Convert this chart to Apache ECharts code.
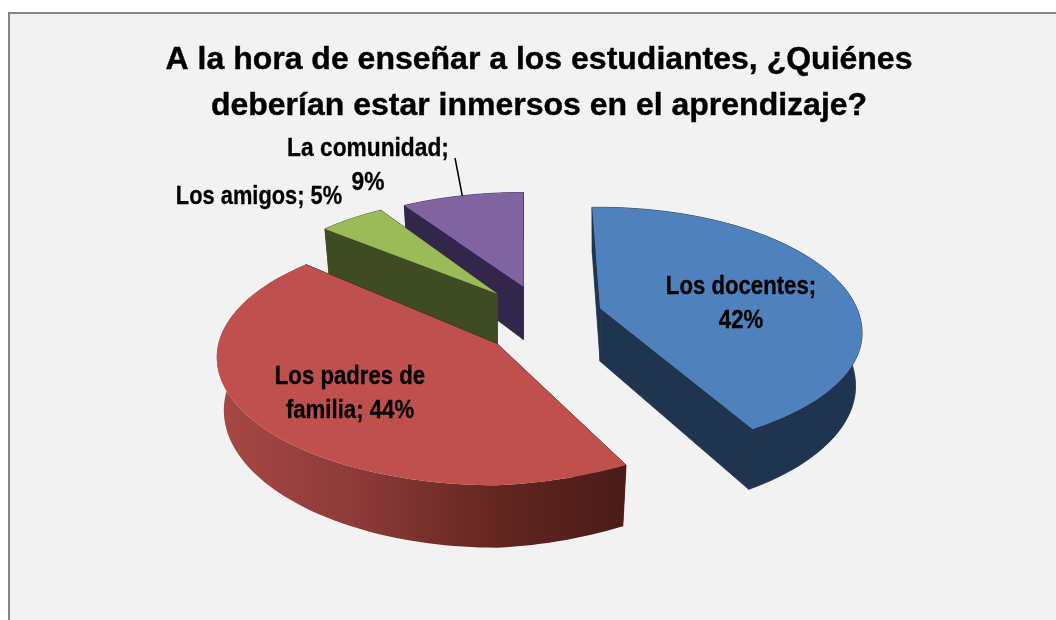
<!DOCTYPE html>
<html><head><meta charset="utf-8">
<style>html,body{margin:0;padding:0;background:#fff}#c{width:1056px;height:620px}</style>
<script src="https://cdn.jsdelivr.net/npm/echarts@6/dist/echarts.min.js"></script>
</head><body><div id="c"></div>
<script>
const categories = ['Los docentes', 'Los padres de familia', 'Los amigos', 'La comunidad'];
const percentValues = [42, 44, 5, 9];
const labelTexts = ['Los docentes;\n42%', 'Los padres de\nfamilia; 44%', 'Los amigos; 5%', 'La comunidad;\n9%'];
const topColors = ['#4f81bd', '#c0504d', '#9bbb59', '#8064a2'];
const wallColors = ['#1f344f', '#4a1b19', '#3f4b22', '#32264a'];
const labelCenters = [[741, 304], [350, 394], [259, 197], [368, 166]];
const labelScales = [0.853, 0.853, 0.84, 0.875];
const drawLevels = [40, 30, 20, 10];

// Perspective tuning of each exploded slice (layout only, no values)
const tune = [
  {dx: 1, dy: -1, da0: -1.3, da1: -7, rx: 264, xo: -2, yo: 25, ryU: 126, ryD: 118, k: 0, tilt: 0},
  {dx: 3, dy: 4, da0: 1.3, da1: 7.4, rx: 280, xo: -1, yo: 13, ryU: 127, ryD: 128, k: 0, tilt: 0.045},
  {dx: -4, dy: 2, da0: 0, da1: 0, rx: 245, xo: 0, yo: 0, ryU: 111.5, ryD: 111.5, k: 0.15, tilt: 0},
  {dx: -1, dy: 2, da0: 0, da1: 0, rx: 250, xo: 0, yo: 0, ryU: 108, ryD: 108, k: 0.15, tilt: 0}
];
const G = {cx: 541, cy: 318, ex: 60, ey: 35, depth: 53, depthK: 0.15, inset: 0.025};
const total = percentValues.reduce((a, b) => a + b, 0);
function rad(d) { return d * Math.PI / 180; }
function pt(ax, ay, deg, bottom, T) {
  const t = rad(deg), dd = -Math.cos(t);
  const s = 1 / (1 - T.k * dd), sd = 1 / (1 - G.depthK * dd);
  const ox = T.rx * Math.sin(t) * s;
  let x = ax + T.xo + ox;
  let y = ay + T.yo + (dd > 0 ? T.ryD : T.ryU) * dd * s - T.tilt * Math.max(0, ox);
  if (bottom) {
    y += G.depth * sd;
    x -= (x - ax) * G.inset;
  }
  return [x, y];
}
function arc(ax, ay, a0, a1, bottom, T) {
  const pts = [], n = 90;
  for (let i = 0; i <= n; i++) pts.push(pt(ax, ay, a0 + (a1 - a0) * i / n, bottom, T));
  return pts;
}
function renderItem(params, api) {
  const i = params.dataIndex, T = tune[i];
  let before = 0;
  for (let j = 0; j < i; j++) before += percentValues[j];
  const value = api.value(0);
  const n0 = before / total * 360, n1 = n0 + value / total * 360;
  const mid = rad((n0 + n1) / 2);
  const ax = G.cx + G.ex * Math.sin(mid) + T.dx, ay = G.cy - G.ey * Math.cos(mid) + T.dy;
  const a0 = n0 + T.da0, a1 = n1 + T.da1;
  const top = arc(ax, ay, a0, a1, false, T), bot = arc(ax, ay, a0, a1, true, T);
  const z = drawLevels[i];
  const apexB = [ax, ay + G.depth];
  const wall = wallColors[i];
  const children = [];
  const poly = (points, fill, dz, stroke) => ({type: 'polygon', shape: {points},
    style: stroke ? {fill, stroke, lineWidth: 0.8, lineJoin: 'round'} : {fill}, z2: z + dz, silent: true});
  children.push(poly([[ax, ay], apexB, bot[0], top[0]], wall, 0, wall));
  children.push(poly([[ax, ay], apexB, bot[bot.length - 1], top[top.length - 1]], wall, 0, wall));
  let rimFill = wall, rimStroke = wall;
  if (i === 1) {
    rimStroke = null;
    rimFill = new echarts.graphic.LinearGradient(0, 0, 1, 0, [
      {offset: 0, color: '#a84845'}, {offset: 0.35, color: '#8c3a38'},
      {offset: 0.7, color: '#62251f'}, {offset: 1, color: '#4a1b19'}]);
  }
  children.push(poly(top.concat(bot.slice().reverse()), rimFill, 1, rimStroke));
  children.push(poly([[ax, ay]].concat(top), topColors[i], 2));
  children.push({type: 'text', z2: 100, silent: true, x: labelCenters[i][0], y: labelCenters[i][1],
    scaleX: labelScales[i], originX: 0, originY: 0,
    style: {text: labelTexts[i], fill: '#000', stroke: '#000', lineWidth: 0.3, font: 'bold 26px "Liberation Sans"', align: 'center', verticalAlign: 'middle', lineHeight: 34}});
  if (i === 3) {
    const edge = pt(ax, ay, a0 + (a1 - a0) * 0.5, false, T);
    children.push({type: 'line', z2: 100, silent: true, shape: {x1: 455, y1: 158, x2: edge[0], y2: edge[1]}, style: {stroke: '#000', lineWidth: 1.5}});
  }
  return {type: 'group', children};
}
const chart = echarts.init(document.getElementById('c'), null, {renderer: 'canvas'});
chart.setOption({
  animation: false,
  backgroundColor: '#ffffff',
  title: {text: 'A la hora de enseñar a los estudiantes, ¿Quiénes\ndeberían estar inmersos en el aprendizaje?',
    left: 534, top: 32, textAlign: 'center',
    textStyle: {fontFamily: 'Liberation Sans', fontWeight: 'bold', fontSize: 32, lineHeight: 46, color: '#000', textBorderColor: '#000', textBorderWidth: 0.4}},
  graphic: [{type: 'rect', z: -10, shape: {x: 9, y: 13, width: 1060, height: 620},
    style: {fill: '#f2f2f2', stroke: '#868686', lineWidth: 2}}],
  tooltip: {show: false},
  series: [{type: 'custom', coordinateSystem: 'none', renderItem,
    data: percentValues.map((v, i) => ({name: categories[i], value: [v]}))}]
});
</script></body></html>
